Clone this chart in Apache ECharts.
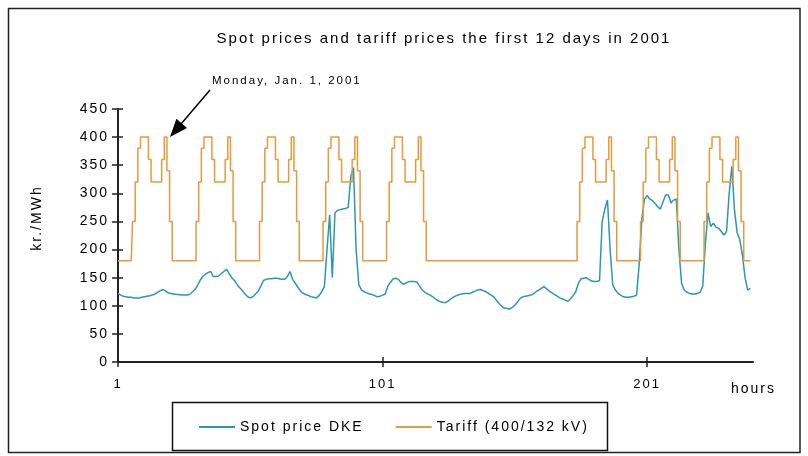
<!DOCTYPE html>
<html><head><meta charset="utf-8">
<script src="https://cdn.jsdelivr.net/npm/echarts@6/dist/echarts.min.js"></script>
<style>html,body{margin:0;padding:0;background:#fff}#c{width:808px;height:456px}</style>
</head><body><div id="c"></div>
<script>
// ---------- data ----------
const titleText = 'Spot prices and tariff prices the first 12 days in 2001';
const annotationText = 'Monday, Jan. 1, 2001';
const seriesNames = ['Spot price DKE', 'Tariff (400/132 kV)'];
const yTicks = [0, 450, 50];            // min, max, step
const xTickLabels = ['1', '101', '201'];
const hourLabels = Array.from({length: 241}, (_, i) => String(i + 1));

const spotPrice = [
  122,119,117,116,115,115,114,114,114,115, 116,117,118,119,121,124,127,129,126,123,
  122,121,120,120,119,119,119,120,124,128, 136,145,152,156,159,161,152,152,153,157,
  161,165,157,150,145,138,132,127,121,116, 114,116,121,126,135,145,147,148,148,149,
  149,148,147,147,152,161,147,140,133,126, 122,120,118,116,115,114,118,125,134,200,
  262,150,265,270,271,272,273,275,330,346, 200,138,128,125,123,121,120,118,116,117,
  119,121,135,142,148,149,147,141,138,141, 143,143,143,142,135,128,124,121,119,116,
  112,109,107,106,106,109,113,116,118,120, 121,122,122,122,124,126,128,129,127,125,
  122,119,116,110,104,99,96,95,94,97,      101,107,113,116,117,118,119,121,125,128,
  131,134,130,126,123,120,117,114,112,110, 108,112,118,125,140,148,149,150,147,144,
  143,143,145,250,272,288,200,137,128,122, 119,116,115,115,116,117,119,175,255,290,
  296,290,287,282,276,272,285,297,297,283, 288,290,200,140,128,124,122,121,121,122,
  124,135,210,265,241,247,240,238,232,226, 232,300,348,270,230,218,190,150,128,131
];

const tariff = [
  180,180,180,180,180,180,250,320,380,400,400,400,360,320,320,320,320,360,400,340,250,180,180,180,
  180,180,180,180,180,180,250,320,380,400,400,400,360,320,320,320,320,360,400,340,250,180,180,180,
  180,180,180,180,180,180,250,320,380,400,400,400,360,320,320,320,320,360,400,340,250,180,180,180,
  180,180,180,180,180,180,250,320,380,400,400,400,360,320,320,320,320,360,400,340,250,180,180,180,
  180,180,180,180,180,180,250,320,380,400,400,400,360,320,320,320,320,360,400,340,250,180,180,180,
  180,180,180,180,180,180,180,180,180,180,180,180,180,180,180,180,180,180,180,180,180,180,180,180,
  180,180,180,180,180,180,180,180,180,180,180,180,180,180,180,180,180,180,180,180,180,180,180,180,
  180,180,180,180,180,180,250,320,380,400,400,400,360,320,320,320,320,360,400,340,250,180,180,180,
  180,180,180,180,180,180,250,320,380,400,400,400,360,320,320,320,320,360,400,340,250,180,180,180,
  180,180,180,180,180,180,250,320,380,400,400,400,360,320,320,320,320,360,400,340,250,180,180,180
];

// ---------- text letter spacing (reference text is widely spaced) ----------
const _gc = HTMLCanvasElement.prototype.getContext;
HTMLCanvasElement.prototype.getContext = function (t, o) {
  const ctx = _gc.call(this, t, o);
  if (t === '2d' && ctx && ('letterSpacing' in ctx) && !ctx.__ls) { ctx.letterSpacing = '2px'; ctx.__ls = true; }
  return ctx;
};

const FONT = '"Liberation Sans", Arial, sans-serif';
const TEAL = '#2b98b0';
const ORANGE = '#e69a3a';
const AXIS = '#222';
const showTick = (i, v) => xTickLabels.indexOf(String(v)) >= 0;

const chart = echarts.init(document.getElementById('c'), null, {renderer: 'canvas'});
chart.setOption({
  animation: false,
  backgroundColor: '#fff',
  textStyle: {fontFamily: FONT},
  title: {
    text: titleText, left: 439, top: 25, textAlign: 'center',
    textStyle: {fontSize: 15, fontWeight: 'normal', color: '#000', fontFamily: FONT}
  },
  grid: {left: 118, right: 55, top: 109, bottom: 94, containLabel: false, outerBoundsMode: 'none'},
  legend: {
    data: seriesNames, left: 199, top: 419, padding: 0, itemGap: 32,
    icon: 'rect', itemWidth: 36, itemHeight: 2,
    textStyle: {fontSize: 14, color: '#000', fontFamily: FONT}
  },
  xAxis: [{
    type: 'category', data: hourLabels, boundaryGap: false,
    axisLine: {show: true, lineStyle: {color: AXIS, width: 2}},
    axisTick: {show: true, interval: showTick, length: 5, lineStyle: {color: AXIS, width: 1.5}},
    axisLabel: {interval: showTick, margin: 15, fontSize: 13, color: '#000', fontFamily: FONT},
    splitLine: {show: false}
  }, {
    type: 'category', data: hourLabels, boundaryGap: false, position: 'bottom',
    axisLine: {show: false},
    axisTick: {show: true, inside: true, interval: showTick, length: 5, lineStyle: {color: AXIS, width: 1.5}},
    axisLabel: {show: false}, splitLine: {show: false}
  }],
  yAxis: [{
    type: 'value', position: 'left', min: yTicks[0], max: yTicks[1], interval: yTicks[2],
    axisLine: {show: true, lineStyle: {color: AXIS, width: 2}},
    axisTick: {show: true, length: 6, lineStyle: {color: AXIS, width: 1.5}},
    axisLabel: {margin: 9, fontSize: 14, color: '#000', fontFamily: FONT},
    splitLine: {show: false}
  }, {
    type: 'value', position: 'left', min: yTicks[0], max: yTicks[1], interval: yTicks[2],
    axisLine: {show: false},
    axisTick: {show: true, inside: true, length: 5, lineStyle: {color: AXIS, width: 1.5}},
    axisLabel: {show: false}, splitLine: {show: false}
  }],
  series: [{
    name: seriesNames[0], type: 'line', data: spotPrice, showSymbol: false,
    lineStyle: {color: TEAL, width: 1.5}, itemStyle: {color: TEAL}, z: 3
  }, {
    name: seriesNames[1], type: 'line', data: tariff, showSymbol: false, step: 'middle',
    lineStyle: {color: ORANGE, width: 1.5}, itemStyle: {color: ORANGE}, z: 4
  }],
  graphic: [
    {type: 'rect', silent: true, z: -10, shape: {x: 8.5, y: 8.5, width: 791.5, height: 444},
     style: {fill: 'none', stroke: AXIS, lineWidth: 1.5}},
    {type: 'rect', silent: true, z: 0, shape: {x: 172.5, y: 402.5, width: 435, height: 48},
     style: {fill: '#fff', stroke: '#111', lineWidth: 1.5}},
    {type: 'text', silent: true, x: 212, y: 81,
     style: {text: annotationText, font: '11.5px ' + FONT, fill: '#000', verticalAlign: 'middle'}},
    {type: 'line', silent: true, shape: {x1: 210, y1: 90, x2: 181, y2: 124},
     style: {stroke: '#000', lineWidth: 1.5}},
    {type: 'polygon', silent: true, shape: {points: [[170, 137], [187, 127.9], [176.4, 118.7]]},
     style: {fill: '#000'}},
    {type: 'text', silent: true, x: 731, y: 389,
     style: {text: 'hours', font: '14px ' + FONT, fill: '#000', verticalAlign: 'middle'}},
    {type: 'text', silent: true, x: 37, y: 218, rotation: Math.PI / 2,
     style: {text: 'kr./MWh', font: '14px ' + FONT, fill: '#000', align: 'center', verticalAlign: 'middle'}}
  ]
});
</script></body></html>
